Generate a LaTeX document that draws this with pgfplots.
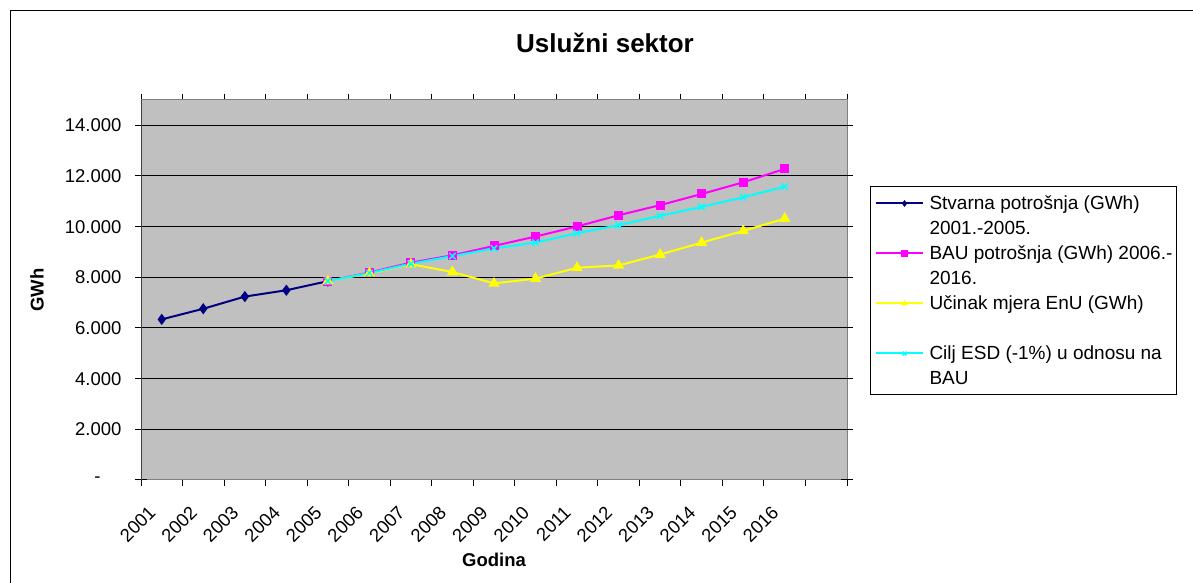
\documentclass[border=0pt]{standalone}
\usepackage{fontspec}
\setmainfont{Liberation Sans}
\usepackage{pgfplots}
\pgfplotsset{compat=1.18}

\definecolor{plotgray}{HTML}{C0C0C0}
\definecolor{navyser}{HTML}{000080}
\definecolor{magser}{HTML}{FF00FF}
\definecolor{yelser}{HTML}{FFFF00}
\definecolor{cyaser}{HTML}{00FFFF}

% two-line legend text, aligned on its first line
\newcommand{\twoline}[2]{\begin{tabular}[t]{@{}l@{}}#1\\#2\end{tabular}}

\begin{document}
\begin{tikzpicture}[x=1pt,y=1pt]
\path[use as bounding box] (0,0) rectangle (1193,583);
% outer chart frame (only left and top edges are inside the picture)
\draw[black, line width=1pt] (10,0) -- (10,572) -- (1193,572);

\node[font=\bfseries\fontsize{26}{30}\selectfont, anchor=base] at (605,530) {Uslužni sektor};
\node[font=\bfseries\fontsize{18.5}{22}\selectfont, rotate=90] at (37,293) {GWh};
\node[font=\bfseries\fontsize{18.5}{22}\selectfont, anchor=base] at (494,16) {Godina};

\begin{axis}[
    at={(141pt,103pt)}, anchor=south west,
    scale only axis, width=706pt, height=380pt,
    xmin=0.5, xmax=17.5, ymin=0, ymax=15000,
    scaled y ticks=false,
    axis background/.style={fill=plotgray},
    axis line style={draw=black!50, line width=1pt},
    % category boundaries carry the tick marks, centres carry the labels
    xtick={0.5,1.5,...,17.5}, xticklabels={},
    extra x ticks={1,...,16},
    extra x tick labels={2001,2002,2003,2004,2005,2006,2007,2008,2009,2010,2011,2012,2013,2014,2015,2016},
    extra x tick style={major tick length=0pt, grid=none},
    xtick align=outside,
    major tick length=6pt,
    ytick={0,2000,...,14000},
    yticklabels={{-\hspace{21pt}\mbox{}},2.000,4.000,6.000,8.000,10.000,12.000,14.000},
    ytick align=center,
    extra y ticks={0,2000,...,14000}, extra y tick labels={},
    extra y tick style={major tick length=12pt, grid=none},
    tick style={black, line width=1pt},
    ymajorgrids, grid style={black, line width=1pt},
    /pgf/number format/assume math mode=true,
    ticklabel style={font=\fontsize{18.5}{22}\selectfont},
    yticklabel style={xshift=-13pt},
    xticklabel style={rotate=45, anchor=east, xshift=-5pt, yshift=5pt},
    xticklabel shift=27pt,
    legend style={at={(rel axis cs:1.0326,0.7737)}, anchor=north west,
        draw=black, line width=1pt, inner xsep=4pt, inner ysep=7pt,
        font=\fontsize{19}{25}\selectfont,
        nodes={inner sep=0pt, text height=16pt, text depth=28pt, anchor=base west},
        row sep=6pt, column sep=6pt},
    legend image code/.code={
        \path (0pt,6pt) -- (47pt,6pt);
        \draw[#1, line width=1.2pt] (11pt,6pt) -- (29pt,6pt);
        \draw[#1, line width=1.2pt, mark size=2.5pt] plot coordinates {(29pt,6pt)};
        \draw[#1, line width=1.2pt] (29pt,6pt) -- (47pt,6pt);
    },
]
\addplot[navyser, line width=2pt, mark=diamond*, mark size=4pt] coordinates {
    (1,6340) (2,6760) (3,7240) (4,7490) (5,7850)
};
\addlegendentry{\twoline{Stvarna potrošnja (GWh)}{2001.-2005.}}
\addplot[magser, line width=2pt, mark=square*, mark size=3.5pt] coordinates {
    (5,7850) (6,8190) (7,8580) (8,8870) (9,9240) (10,9610) (11,10010)
    (12,10450) (13,10850) (14,11290) (15,11750) (16,12280)
};
\addlegendentry{\twoline{BAU potrošnja (GWh) 2006.-}{2016.}}
\addplot[yelser, line width=2pt, mark=triangle*, mark size=4.5pt] coordinates {
    (5,7850) (6,8160) (7,8520) (8,8210) (9,7760) (10,7950) (11,8380)
    (12,8470) (13,8900) (14,9370) (15,9830) (16,10320)
};
\addlegendentry{Učinak mjera EnU (GWh)}
\addplot[cyaser, line width=2pt, mark=x, mark size=4.5pt, mark options={line width=1.5pt}] coordinates {
    (5,7850) (6,8170) (7,8540) (8,8840) (9,9140) (10,9370) (11,9740)
    (12,10060) (13,10430) (14,10780) (15,11160) (16,11580)
};
\addlegendentry{\twoline{Cilj ESD (-1\%) u odnosu na}{BAU}}
\draw[black!75, line width=1.5pt] (rel axis cs:0,0) -- (rel axis cs:0,1);
\end{axis}
\end{tikzpicture}
\end{document}
